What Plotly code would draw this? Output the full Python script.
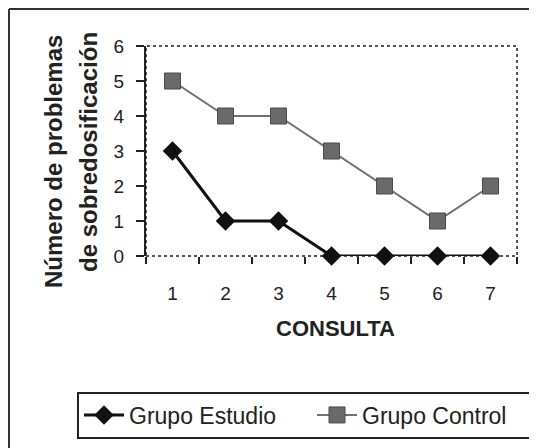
import plotly.graph_objects as go

consultas = [1, 2, 3, 4, 5, 6, 7]
grupo_estudio = [3, 1, 1, 0, 0, 0, 0]
grupo_control = [5, 4, 4, 3, 2, 1, 2]
y_ticks = [0, 1, 2, 3, 4, 5, 6]

FONT = "Liberation Sans, Arial, sans-serif"

# page has an 8px body margin: figure starts at (8, 8) in the window
OFF = 8
W, H = 537 - OFF, 448 - OFF
# plot-area edges in window pixels
L, R, T, B = 146, 517, 46, 256
pw, ph = R - L, B - T


def px_x(p):
    return (p - L) / pw


def px_y(p):
    return (B - p) / ph


fig = go.Figure()
fig.add_trace(go.Scatter(
    x=consultas, y=grupo_estudio, name="Grupo Estudio",
    mode="lines+markers",
    line=dict(color="#111111", width=3),
    marker=dict(symbol="diamond", size=15, color="#111111"),
    cliponaxis=False,
))
fig.add_trace(go.Scatter(
    x=consultas, y=grupo_control, name="Grupo Control",
    mode="lines+markers",
    line=dict(color="#707070", width=2),
    marker=dict(symbol="square", size=16, color="#6a6a6a",
                line=dict(color="#4a4a4a", width=1)),
    cliponaxis=False,
))

fig.update_layout(
    width=W, height=H,
    margin=dict(l=L - OFF, r=537 - R, t=T - OFF, b=448 - B, pad=0,
                autoexpand=False),
    paper_bgcolor="white", plot_bgcolor="white",
    font=dict(family=FONT, color="#222222", size=17),
    showlegend=True,
    legend=dict(
        orientation="h", x=px_x(77), y=px_y(415),
        xanchor="left", yanchor="middle",
        bordercolor="#222222", borderwidth=2,
        font=dict(size=23, color="#222222"),
        itemwidth=40, tracegroupgap=0,
        entrywidth=178, entrywidthmode="pixels",
    ),
    xaxis=dict(
        range=[0.5, 7.5], tickvals=consultas, ticktext=[str(c) for c in consultas],
        ticks="", showgrid=False, zeroline=False,
        showline=False, ticklabelstandoff=24,
        tickfont=dict(size=19),
        minor=dict(tickvals=[0.5, 1.5, 2.5, 3.5, 4.5, 5.5, 6.5, 7.5],
                   ticks="outside", ticklen=7, tickwidth=2, tickcolor="#222222"),
    ),
    yaxis=dict(
        range=[0, 6], tickvals=y_ticks,
        ticks="outside", ticklen=8, tickwidth=2, tickcolor="#222222",
        showgrid=False, zeroline=False,
        showline=True, linecolor="#222222", linewidth=2,
        ticklabelstandoff=8, tickfont=dict(size=19),
    ),
    shapes=[
        dict(type="rect", xref="paper", yref="paper", x0=0, x1=1, y0=0, y1=1,
             line=dict(color="#555555", width=2, dash="dot"), layer="below"),
        dict(type="line", xref="paper", yref="paper",
             x0=px_x(9), x1=px_x(9), y0=px_y(9), y1=px_y(448),
             line=dict(color="#333333", width=2)),
        dict(type="line", xref="paper", yref="paper",
             x0=px_x(9), x1=px_x(537), y0=px_y(9), y1=px_y(9),
             line=dict(color="#333333", width=2)),
    ],
    annotations=[
        dict(text="<b>Número de problemas</b>", xref="paper", yref="paper",
             x=px_x(53), y=px_y(162), textangle=-90, showarrow=False,
             xanchor="center", yanchor="middle",
             font=dict(size=24, color="#222222")),
        dict(text="<b>de sobredosificación</b>", xref="paper", yref="paper",
             x=px_x(88), y=px_y(152), textangle=-90, showarrow=False,
             xanchor="center", yanchor="middle",
             font=dict(size=24, color="#222222")),
        dict(text="<b>CONSULTA</b>", xref="paper", yref="paper",
             x=px_x(335), y=px_y(328), showarrow=False,
             xanchor="center", yanchor="middle",
             font=dict(size=22, color="#222222")),
    ],
)

fig.write_html("out.html")
